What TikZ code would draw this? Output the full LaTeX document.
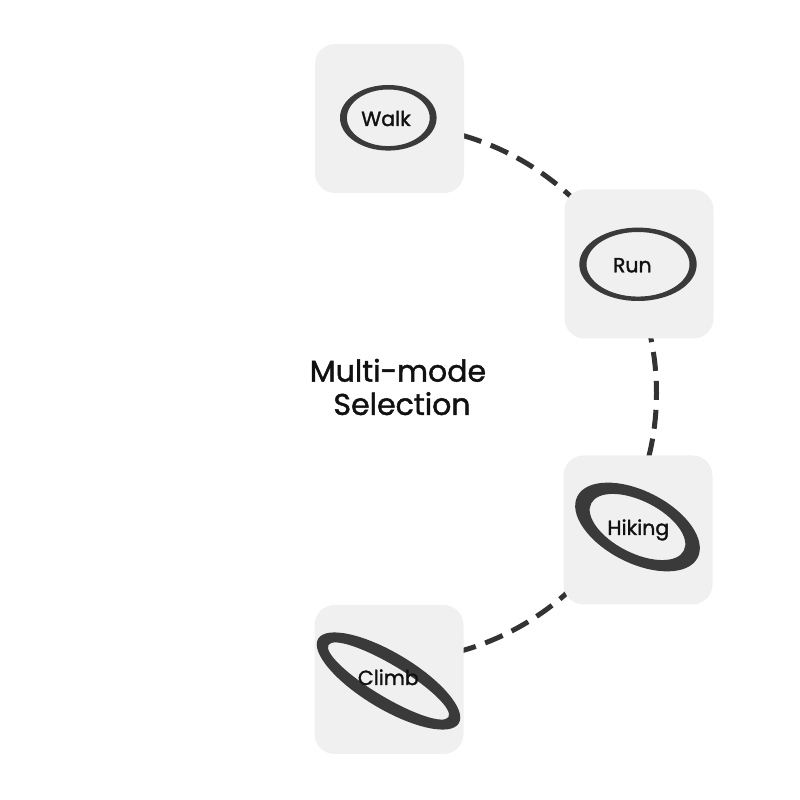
\documentclass[tikz,border=0pt]{standalone}
\usepackage{fontspec}
\setmainfont{Poppins}[FakeBold=1.5]
\definecolor{boxgray}{HTML}{F0F0F0}
\definecolor{ringgray}{HTML}{3A3A3A}
\definecolor{linegray}{HTML}{333333}
\definecolor{txt}{HTML}{111111}
\begin{document}
\begin{tikzpicture}[x=1pt,y=1pt,
  box/.style={draw=none, fill=boxgray, rounded corners=20pt, minimum width=149pt, minimum height=149pt, inner sep=0pt},
  conn/.style={draw=linegray, line width=5pt, dash pattern=on 19pt off 10pt},
  ring/.style={fill=ringgray, even odd rule},
  lbl/.style={font=\fontsize{20.5}{24}\selectfont, text=txt, anchor=base, inner sep=0pt},
  title/.style={font=\fontsize{30}{33.3}\selectfont, text=txt, align=center, inner sep=0pt}]
\useasboundingbox (0,0) rectangle (800,800);
\coordinate (o) at (388.5,407);
% dashed connectors (arc of a circle, hidden under the boxes at the ends)
\draw[conn] ([shift={(80:268)}]o) coordinate (c1) arc[start angle=80, end angle=40, radius=268];
\draw[conn] ([shift={(15:268)}]o) coordinate (c2) arc[start angle=15, end angle=-15, radius=268];
\draw[conn] ([shift={(-40:268)}]o) coordinate (c3) arc[start angle=-40, end angle=-80, radius=268];
% boxes
\node[box] (walk) at (389.5,681.5) {};
\node[box] (run) at (639,536) {};
\node[box] (hiking) at (638,270) {};
\node[box] (climb) at (389,120.5) {};
% rings
\fill[ring] (388.3,682.2) ellipse[x radius=48.3, y radius=32.8] (388.3,682.2) ellipse[x radius=41.4, y radius=28.3];
\fill[ring] (638,535.7) ellipse[x radius=58.7, y radius=36.7] (638,535.7) ellipse[x radius=51.5, y radius=32.3];
\fill[ring, rotate around={-27:(637.5,273)}] (637.5,273) ellipse[x radius=67.5, y radius=36] (637.5,273) ellipse[x radius=52, y radius=26];
\fill[ring, rotate around={-31:(388.5,119)}] (388.5,119) ellipse[x radius=82, y radius=28] (388.5,119) ellipse[x radius=70, y radius=16];
% labels
\node[lbl] (walkl) at (386,674) {Walk};
\node[lbl] (runl) at (632.3,527.7) {Run};
\node[lbl] (hikingl) at (638.3,265) {Hiking};
\node[lbl] (climbl) at (388.3,115) {Climb};
\node[title] (sel) at (398,413) {Multi-mode\\\hspace*{8pt}Selection};
\end{tikzpicture}
\end{document}
